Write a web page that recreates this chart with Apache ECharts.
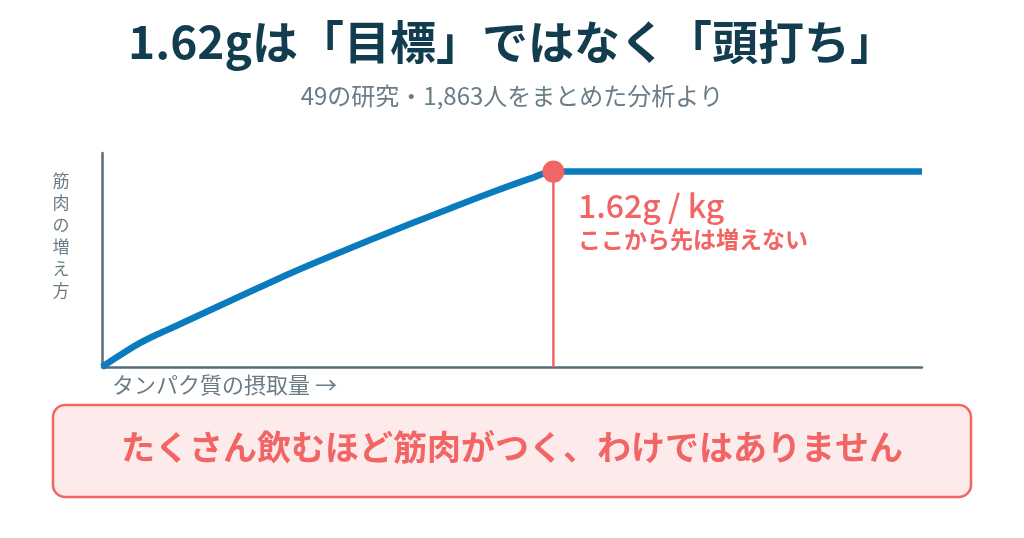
<!DOCTYPE html>
<html>
<head>
<meta charset="utf-8">
<script src="https://cdn.jsdelivr.net/npm/echarts@6/dist/echarts.min.js"></script>
<style>
html,body{margin:0;padding:0;background:#fff;}
#chart{width:1024px;height:538px;}
</style>
</head>
<body>
<div id="chart"></div>
<script>
// Data (x: protein intake g/kg, y: relative muscle gain)
var intake = [0, 0.057, 0.129, 0.201, 0.273, 0.416, 0.560, 0.675, 0.818, 0.962, 1.105, 1.249, 1.393, 1.536, 1.62, 2.943];
var gain   = [0, 4.9, 10.7, 15.4, 19.6, 28.3, 36.9, 43.7, 51.6, 59.3, 66.8, 74.1, 81.3, 88.0, 91.3, 91.3];
var thresholdX = 1.62;
var plateauY = 91.3;
var xMax = 2.943;
var yMax = 100;

var titleText = '1.62gは「目標」ではなく「頭打ち」';
var subtitleText = '49の研究・1,863人をまとめた分析より';
var yLabel = '筋肉の増え方';
var xLabel = 'タンパク質の摂取量 →';
var annoMain = '1.62g / kg';
var annoSub = 'ここから先は増えない';
var boxText = 'たくさん飲むほど筋肉がつく、わけではありません';

var FONT = '"Noto Sans CJK JP", "Noto Sans", sans-serif';
var RED = '#f26565';
var BLUE = '#0a7bbd';
var AXIS = '#566d78';
var GRAY = '#6a7c86';

var curve = intake.map(function (x, i) { return [x, gain[i]]; });

var chart = echarts.init(document.getElementById('chart'));
chart.setOption({
  backgroundColor: '#ffffff',
  animation: false,
  textStyle: { fontFamily: FONT },
  grid: { left: 102, right: 102, top: 153, bottom: 171 },
  xAxis: {
    type: 'value', min: 0, max: xMax,
    axisLine: { show: true, lineStyle: { color: AXIS, width: 2.5 } },
    axisTick: { show: false }, axisLabel: { show: false }, splitLine: { show: false }
  },
  yAxis: {
    type: 'value', min: 0, max: yMax,
    axisLine: { show: true, lineStyle: { color: AXIS, width: 2.5 } },
    axisTick: { show: false }, axisLabel: { show: false }, splitLine: { show: false }
  },
  series: [
    {
      type: 'line', data: [[thresholdX, 0], [thresholdX, plateauY]],
      symbol: 'none', lineStyle: { color: RED, width: 2.5 }, z: 1
    },
    {
      type: 'line', data: curve, symbol: 'none', smooth: 0.3,
      lineStyle: { color: BLUE, width: 6.5, join: 'round' }, z: 2
    },
    {
      type: 'scatter', data: [[thresholdX, plateauY]], symbolSize: 22,
      itemStyle: { color: RED, opacity: 1 }, z: 3
    }
  ],
  graphic: [
    { type: 'text', left: 'center', top: 19, style: { text: titleText, font: 'bold 46px ' + FONT, fill: '#123d4f' } },
    { type: 'text', left: 'center', top: 84, style: { text: subtitleText, font: '24px ' + FONT, fill: GRAY } },
    { type: 'text', x: 61, y: 170, style: { text: yLabel.split('').join('\n'), font: '17px ' + FONT, fill: GRAY, lineHeight: 22, align: 'center' } },
    { type: 'text', x: 112, y: 374, style: { text: xLabel, font: '22px ' + FONT, fill: GRAY } },
    { type: 'text', x: 578, y: 190, style: { text: annoMain, font: '500 32px ' + FONT, fill: RED } },
    { type: 'text', x: 578, y: 228, style: { text: annoSub, font: 'bold 23px ' + FONT, fill: RED } },
    { type: 'rect', shape: { x: 53, y: 405, width: 918, height: 92, r: 12 }, style: { fill: '#fdeaea', stroke: RED, lineWidth: 2.5 }, z: 0 },
    { type: 'text', left: 'center', top: 430, style: { text: boxText, font: 'bold 34px ' + FONT, fill: RED }, z: 1 }
  ]
});
</script>
</body>
</html>
